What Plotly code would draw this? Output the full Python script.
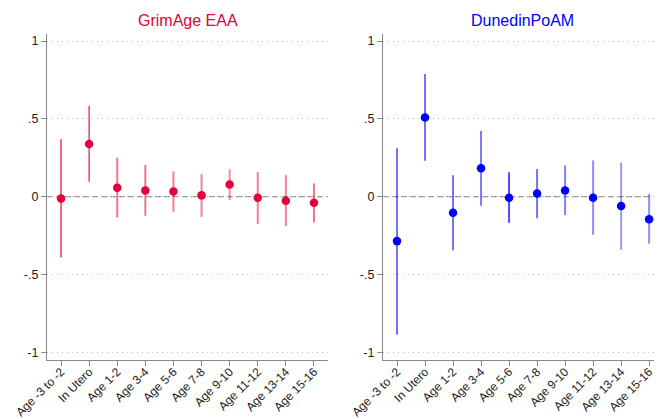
import plotly.graph_objects as go

categories = ["Age -3 to -2", "In Utero", "Age 1-2", "Age 3-4", "Age 5-6",
              "Age 7-8", "Age 9-10", "Age 11-12", "Age 13-14", "Age 15-16"]

grim_est = [-0.012, 0.338, 0.057, 0.040, 0.033, 0.008, 0.078, -0.008, -0.027, -0.040]
grim_lo = [-0.391, 0.095, -0.134, -0.123, -0.098, -0.130, -0.022, -0.175, -0.190, -0.166]
grim_hi = [0.368, 0.582, 0.250, 0.203, 0.162, 0.143, 0.175, 0.158, 0.138, 0.085]

dun_est = [-0.286, 0.509, -0.104, 0.183, -0.008, 0.020, 0.040, -0.008, -0.061, -0.145]
dun_lo = [-0.886, 0.230, -0.344, -0.059, -0.168, -0.140, -0.119, -0.245, -0.342, -0.303]
dun_hi = [0.310, 0.788, 0.138, 0.421, 0.156, 0.177, 0.200, 0.233, 0.218, 0.016]

# line opacity per category (CI shading as in source)
grim_alpha = [0.85, 0.8, 0.55, 0.55, 0.5, 0.5, 0.45, 0.5, 0.5, 0.55]
dun_alpha = [0.8, 0.8, 0.8, 0.75, 0.7, 0.55, 0.5, 0.45, 0.4, 0.45]

yticks = [-1, -0.5, 0, 0.5, 1]
yticktext = ["-1", "-.5", "0", ".5", "1"]

panels = [
    ("GrimAge EAA", grim_est, grim_lo, grim_hi, grim_alpha, (228, 0, 58), "#E4003A", "x", "y"),
    ("DunedinPoAM", dun_est, dun_lo, dun_hi, dun_alpha, (0, 0, 255), "#0000FF", "x2", "y2"),
]

fig = go.Figure()
xs = list(range(1, len(categories) + 1))

for title, est, lo, hi, alpha, rgb, col, xa, ya in panels:
    for i, x in enumerate(xs):
        a = alpha[i]
        w = 1.4 if a > 0.7 else 2
        fig.add_trace(go.Scatter(
            x=[x, x], y=[lo[i], hi[i]], mode="lines", xaxis=xa, yaxis=ya,
            line=dict(color=f"rgba({rgb[0]},{rgb[1]},{rgb[2]},{a})", width=w),
            showlegend=False, hoverinfo="skip"))
    fig.add_trace(go.Scatter(
        x=xs, y=est, mode="markers", xaxis=xa, yaxis=ya,
        marker=dict(color=col, size=8.5), showlegend=False))

# page body has an 8px margin, so the figure is laid out 8px shifted
OFF = 8
W, H = 662 - OFF, 419 - OFF
ydom = [(419 - 360) / H, (H - (34 - OFF)) / H]
axis_common = dict(showline=True, linecolor="#888888", linewidth=1.2,
                   ticks="outside", ticklen=5, tickcolor="#888888", automargin=False)
xfont = dict(family="Liberation Sans, Arial", size=12, color="#222222")
yfont = dict(family="Liberation Sans, Arial", size=12.5, color="#222222")

fig.update_layout(
    width=W, height=H, margin=dict(l=0, r=0, t=0, b=0, autoexpand=False),
    plot_bgcolor="white", paper_bgcolor="white",
    xaxis=dict(domain=[(47 - OFF) / W, (328 - OFF) / W], range=[0.5, 10.5], tickvals=xs,
               ticktext=categories, tickangle=-45, showgrid=False, zeroline=False,
               ticklabelstandoff=-6, anchor="y", tickfont=xfont, **axis_common),
    xaxis2=dict(domain=[(383 - OFF) / W, 1.0], range=[0.5, 10.46], tickvals=xs,
                ticktext=categories, tickangle=-45, showgrid=False, zeroline=False,
                ticklabelstandoff=-6, anchor="y2", tickfont=xfont, **axis_common),
    yaxis=dict(domain=ydom, range=[-1.05, 1.045], tickvals=yticks, ticktext=yticktext,
               showgrid=True, gridcolor="#bbbbbb", griddash="1px,4px", gridwidth=1,
               zeroline=False, anchor="x", tickfont=yfont, **axis_common),
    yaxis2=dict(domain=ydom, range=[-1.05, 1.045], tickvals=yticks, ticktext=yticktext,
                showgrid=True, gridcolor="#bbbbbb", griddash="1px,4px", gridwidth=1,
                zeroline=False, anchor="x2", tickfont=yfont, **axis_common),
)

for xa, ya in [("x", "y"), ("x2", "y2")]:
    fig.add_shape(type="line", xref=f"{xa} domain", yref=ya, x0=0, x1=1, y0=0, y1=0,
                  line=dict(color="#999999", width=1.2, dash="6px,3px"), layer="below")

for title, est, lo, hi, alpha, rgb, col, xa, ya in panels:
    fig.add_annotation(text=title, xref=f"{xa} domain", yref="paper", x=0.5,
                       y=(H - (21 - OFF)) / H, yanchor="middle", showarrow=False,
                       font=dict(family="Liberation Sans, Arial", size=16, color=col))

fig.write_html("out.html")
